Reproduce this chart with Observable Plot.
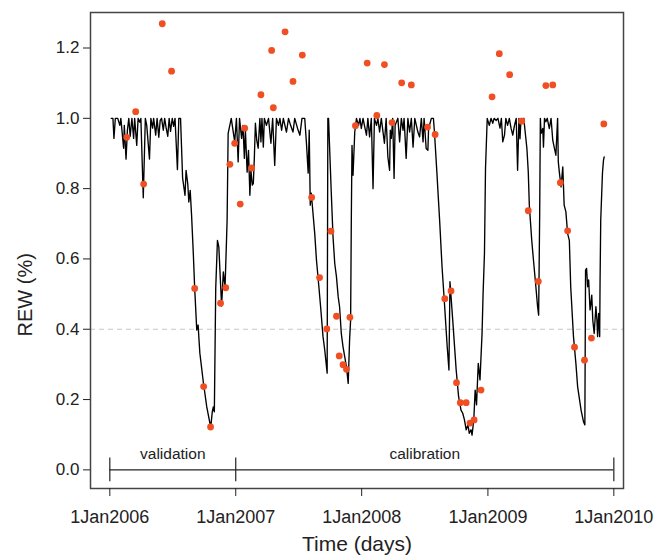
<!DOCTYPE html>
<html>
<head>
<meta charset="utf-8">
<script src="https://cdn.jsdelivr.net/npm/d3@7"></script>
<script src="https://cdn.jsdelivr.net/npm/@observablehq/plot@0.6"></script>
<style>
  html, body { margin: 0; padding: 0; background: #fff; }
  #chart { width: 654px; height: 560px; }
</style>
</head>
<body>
<div id="chart"></div>
<script>
// Simulated REW (days since 1 Jan 2006, value)
const lineDays = [4,9,12,16,23,29,32,40,42,47,51,55,59,64,69,72,78,82,87,90,97,103,107,115,119,124,127,133,137,142,146,150,155,159,163,168,172,176,181,185,189,196,200,205,211,218,221,226,229,233,237,242,246,252,256,258,261,271,281,290,293,297,300,303,307,312,316,324,329,334,338,340,343,352,362,367,372,376,382,386,390,393,398,402,406,409,413,416,419,422,426,430,435,438,441,445,448,454,460,467,472,478,483,489,493,498,503,512,518,524,531,536,544,551,557,565,570,575,578,581,584,594,599,606,611,618,623,630,632,634,642,647,652,657,662,666,671,676,686,691,695,698,700,702,705,710,715,721,725,729,734,738,744,748,753,758,763,767,773,777,782,787,796,801,806,811,813,816,820,824,827,835,840,845,850,853,859,864,869,874,879,884,893,898,903,908,911,917,922,924,932,938,941,948,951,956,963,970,978,983,986,994,1004,1011,1018,1023,1028,1033,1038,1042,1047,1050,1055,1059,1063,1068,1073,1079,1082,1086,1089,1094,1100,1105,1110,1114,1120,1125,1131,1135,1139,1144,1148,1153,1158,1163,1168,1173,1178,1182,1186,1189,1192,1195,1200,1204,1209,1213,1216,1223,1228,1235,1240,1243,1246,1248,1250,1255,1257,1260,1264,1268,1274,1279,1284,1289,1293,1298,1300,1303,1308,1313,1317,1322,1327,1332,1336,1344,1351,1356,1366,1373,1377,1379,1382,1385,1388,1392,1394,1397,1400,1404,1409,1412,1414,1417,1420,1421,1423,1428,1431,1433];
const lineRew = [1.0,1.0,0.943,1.0,1.0,0.98,1.0,0.915,0.98,0.884,0.966,1.0,0.949,1.0,0.943,1.0,0.923,1.0,0.989,1.0,0.774,1.0,0.98,0.884,1.0,0.972,1.0,0.952,1.0,0.946,0.994,1.0,0.966,1.0,0.974,0.949,1.0,0.963,1.0,0.977,1.0,0.854,1.0,1.0,0.83,0.781,0.852,0.813,0.762,0.795,0.724,0.616,0.517,0.398,0.412,0.378,0.332,0.25,0.179,0.134,0.125,0.165,0.179,0.165,0.517,0.653,0.634,0.466,0.563,0.52,0.645,0.71,0.957,1.0,0.933,1.0,0.876,1.0,0.943,0.98,0.886,0.966,0.847,0.909,0.781,0.852,0.81,0.815,0.89,0.986,0.937,0.915,1.0,0.933,1.0,0.918,1.0,0.98,1.0,0.929,1.0,0.866,1.0,0.98,1.0,0.966,1.0,0.961,1.0,0.98,0.961,1.0,0.972,0.952,1.0,1.0,0.929,0.844,0.966,0.753,0.787,0.672,0.597,0.521,0.464,0.379,0.341,0.275,1.0,1.0,0.787,0.663,0.587,0.549,0.492,0.464,0.388,0.35,0.293,0.246,0.369,0.426,0.71,0.923,0.838,0.961,1.0,0.98,1.0,0.971,1.0,0.98,0.952,1.0,0.947,1.0,0.8,1.0,0.98,1.0,0.961,1.0,0.929,1.0,0.89,0.852,0.966,0.943,1.0,0.829,0.98,1.0,0.933,1.0,0.966,1.0,0.886,1.0,0.961,1.0,0.918,1.0,0.961,0.947,1.0,0.933,1.0,0.914,0.909,0.971,1.0,1.0,0.961,0.847,0.795,0.71,0.578,0.474,0.35,0.284,0.535,0.426,0.284,0.208,0.17,0.161,0.142,0.114,0.128,0.104,0.114,0.099,0.142,0.227,0.185,0.303,0.256,0.388,0.502,0.616,0.857,1.0,0.98,1.0,0.986,1.0,0.994,1.0,0.972,1.0,0.933,0.952,1.0,0.98,1.0,0.972,0.952,0.98,1.0,0.852,1.0,0.942,1.0,0.994,1.0,0.961,0.914,0.847,0.753,0.653,0.597,0.521,0.464,0.44,0.724,1.0,0.957,0.971,0.918,1.0,0.99,1.0,0.971,1.0,0.937,0.914,0.895,1.0,0.876,0.847,0.805,0.862,0.753,0.734,0.672,0.653,0.521,0.379,0.303,0.237,0.17,0.137,0.128,0.568,0.573,0.521,0.54,0.455,0.469,0.497,0.426,0.388,0.464,0.426,0.379,0.445,0.379,0.53,0.71,0.844,0.881,0.89];

// Observed REW (days since 1 Jan 2006, value)
const obsDays = [49,75,98,152,179,246,272,292,321,336,348,362,378,391,411,438,469,474,508,531,558,585,608,629,641,657,665,676,686,696,712,746,774,796,818,846,874,921,943,971,989,1005,1016,1033,1044,1056,1076,1108,1129,1159,1194,1213,1242,1264,1284,1306,1327,1347,1376,1396,1432];
const obsRew = [0.946,1.019,0.813,1.269,1.134,0.516,0.237,0.122,0.474,0.518,0.869,0.929,0.756,0.972,0.859,1.067,1.193,1.03,1.246,1.105,1.18,0.775,0.547,0.401,0.679,0.437,0.324,0.299,0.286,0.434,0.979,1.157,1.008,1.153,0.988,1.101,1.095,0.975,0.954,0.487,0.509,0.248,0.191,0.191,0.133,0.142,0.227,1.061,1.184,1.124,0.992,0.737,0.536,1.093,1.095,0.817,0.68,0.349,0.312,0.375,0.984];

// Axis ticks
const xTickYears = [2006, 2007, 2008, 2009, 2010];
const yTicks = [0, 0.2, 0.4, 0.6, 0.8, 1.0, 1.2];

// Period annotations
const periodBounds = ["2006-01-01", "2007-01-01", "2010-01-01"];
const periodNames = ["validation", "calibration"];
const thresholdValue = [0.4];

const t0 = new Date(Date.UTC(2006, 0, 1));
const toDate = d => d3.utcDay.offset(t0, d);
const lineData = lineDays.map((d, i) => ({date: toDate(d), rew: lineRew[i]}));
const obsData = obsDays.map((d, i) => ({date: toDate(d), rew: obsRew[i]}));
const bounds = periodBounds.map(s => new Date(s + "T00:00:00Z"));
const periodText = periodNames.map((name, i) => ({
  name, date: new Date((bounds[i].getTime() + bounds[i + 1].getTime()) / 2)
}));
const xTicks = xTickYears.map(y => new Date(Date.UTC(y, 0, 1)));

const chart = Plot.plot({
  width: 654,
  height: 560,
  marginLeft: 90,
  marginRight: 31,
  marginTop: 12,
  marginBottom: 72,
  style: {fontFamily: "'Liberation Sans', Arial, Helvetica, sans-serif", fontSize: "16px", color: "#222", background: "#fff"},
  x: {type: "utc", domain: [new Date("2005-11-06T00:00:00Z"), new Date("2010-01-29T00:00:00Z")]},
  y: {domain: [-0.053, 1.301]},
  marks: [
    Plot.ruleY(thresholdValue, {stroke: "#c8c8c8", strokeWidth: 1.2, strokeDasharray: "5,4"}),
    Plot.line(lineData, {x: "date", y: "rew", stroke: "#000", strokeWidth: 1.35}),
    Plot.dot(obsData, {x: "date", y: "rew", r: 3.4, fill: "#ef4f23", stroke: "none"}),
    Plot.ruleY([{x1: bounds[0], x2: bounds[bounds.length - 1], y: 0}], {x1: "x1", x2: "x2", y: "y", stroke: "#222", strokeWidth: 1.2}),
    Plot.ruleX(bounds, {y1: -0.034, y2: 0.034, stroke: "#222", strokeWidth: 1.2}),
    Plot.text(periodText, {x: "date", y: 0.045, text: "name", fontSize: 15.5, fill: "#222"}),
    Plot.frame({stroke: "#444", strokeWidth: 1.5}),
    Plot.axisX({ticks: xTicks, tickFormat: d => "1Jan" + d.getUTCFullYear(), tickSize: 8, tickPadding: 14, label: null, fontSize: 18}),
    Plot.axisY({ticks: yTicks, tickFormat: d3.format(".1f"), tickSize: 7, tickPadding: 4, label: null, fontSize: 17}),
    Plot.text(["Time (days)"], {frameAnchor: "bottom", dy: 62, fontSize: 21, fill: "#222"}),
    Plot.text(["REW (%)"], {frameAnchor: "left", dx: -65, dy: 86, rotate: -90, fontSize: 20, fill: "#222"})
  ]
});
document.getElementById("chart").appendChild(chart);
</script>
</body>
</html>
